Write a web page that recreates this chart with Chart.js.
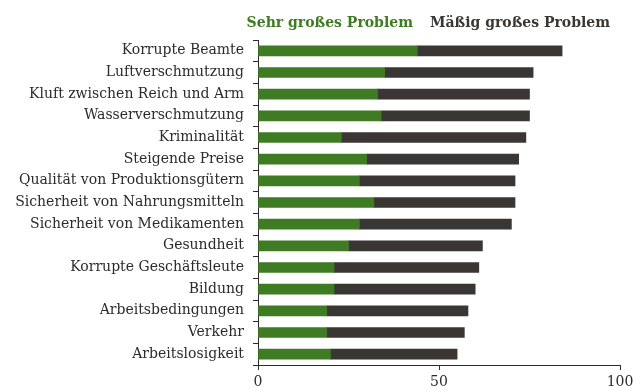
<!DOCTYPE html>
<html>
<head>
<meta charset="utf-8">
<script src="https://cdn.jsdelivr.net/npm/chart.js@4"></script>
<style>
    html, body { margin: 0; padding: 0; background: #fff; }
    #wrap { width: 633px; height: 391px; }
</style>
</head>
<body>
<div id="wrap"><canvas id="problem-chart"></canvas></div>
<script>
// Kategorien (von oben nach unten)
const categories = [
    'Korrupte Beamte', 'Luftverschmutzung', 'Kluft zwischen Reich und Arm',
    'Wasserverschmutzung', 'Kriminalität', 'Steigende Preise',
    'Qualität von Produktionsgütern', 'Sicherheit von Nahrungsmitteln',
    'Sicherheit von Medikamenten', 'Gesundheit', 'Korrupte Geschäftsleute',
    'Bildung', 'Arbeitsbedingungen', 'Verkehr', 'Arbeitslosigkeit'
];

// Anteile in Prozent
const sehrGross = [44, 35, 33, 34, 23, 30, 28, 32, 28, 25, 21, 21, 19, 19, 20];
const maessigGross = [40, 41, 42, 41, 51, 42, 43, 39, 42, 37, 40, 39, 39, 38, 35];

const xTicks = [0, 50, 100];

const GREEN = '#3e7b23';
const DARK = '#3a3634';
const TEXT = '#2b2b2b';
const SERIF = "'DejaVu Serif', Georgia, serif";

const ctx = document.getElementById('problem-chart').getContext('2d');

new Chart(ctx, {
    type: 'bar',
    data: {
        labels: categories,
        datasets: [{
            label: 'Sehr großes Problem',
            data: sehrGross,
            backgroundColor: GREEN,
            barThickness: 10
        }, {
            label: 'Mäßig großes Problem',
            data: maessigGross,
            backgroundColor: DARK,
            barThickness: 10
        }]
    },
    options: {
        indexAxis: 'y',
        responsive: true,
        maintainAspectRatio: false,
        animation: false,
        layout: {
            padding: { top: 6, right: 13, bottom: 0, left: 0 }
        },
        scales: {
            x: {
                stacked: true,
                min: 0,
                max: 100,
                afterBuildTicks: function(scale) {
                    scale.ticks = xTicks.map(v => ({ value: v }));
                },
                afterFit: function(scale) {
                    // feste Höhe, kein Überstand für "100"
                    scale.height = 26;
                    scale.paddingRight = 0;
                },
                grid: {
                    drawOnChartArea: false,
                    color: TEXT,
                    tickLength: 5
                },
                border: { color: TEXT, width: 1 },
                ticks: {
                    color: TEXT,
                    font: { family: SERIF, size: 14 },
                    padding: 4,
                    maxRotation: 0
                }
            },
            y: {
                stacked: true,
                afterFit: function(scale) {
                    scale.width = 258;
                },
                grid: {
                    drawOnChartArea: false,
                    color: TEXT,
                    tickLength: 5,
                    offset: true
                },
                border: { color: TEXT, width: 1 },
                ticks: {
                    color: TEXT,
                    font: { family: SERIF, size: 14 },
                    padding: 9
                }
            }
        },
        plugins: {
            legend: {
                position: 'top',
                align: 'end',
                labels: {
                    boxWidth: 0,
                    padding: 10,
                    font: { family: SERIF, size: 14, weight: 'bold' },
                    generateLabels: function(chart) {
                        return chart.data.datasets.map((ds, i) => ({
                            text: ds.label,
                            fontColor: ds.backgroundColor,
                            fillStyle: 'rgba(0,0,0,0)',
                            strokeStyle: 'rgba(0,0,0,0)',
                            lineWidth: 0,
                            datasetIndex: i
                        }));
                    }
                }
            },
            tooltip: { enabled: false }
        }
    }
});
</script>
</body>
</html>
